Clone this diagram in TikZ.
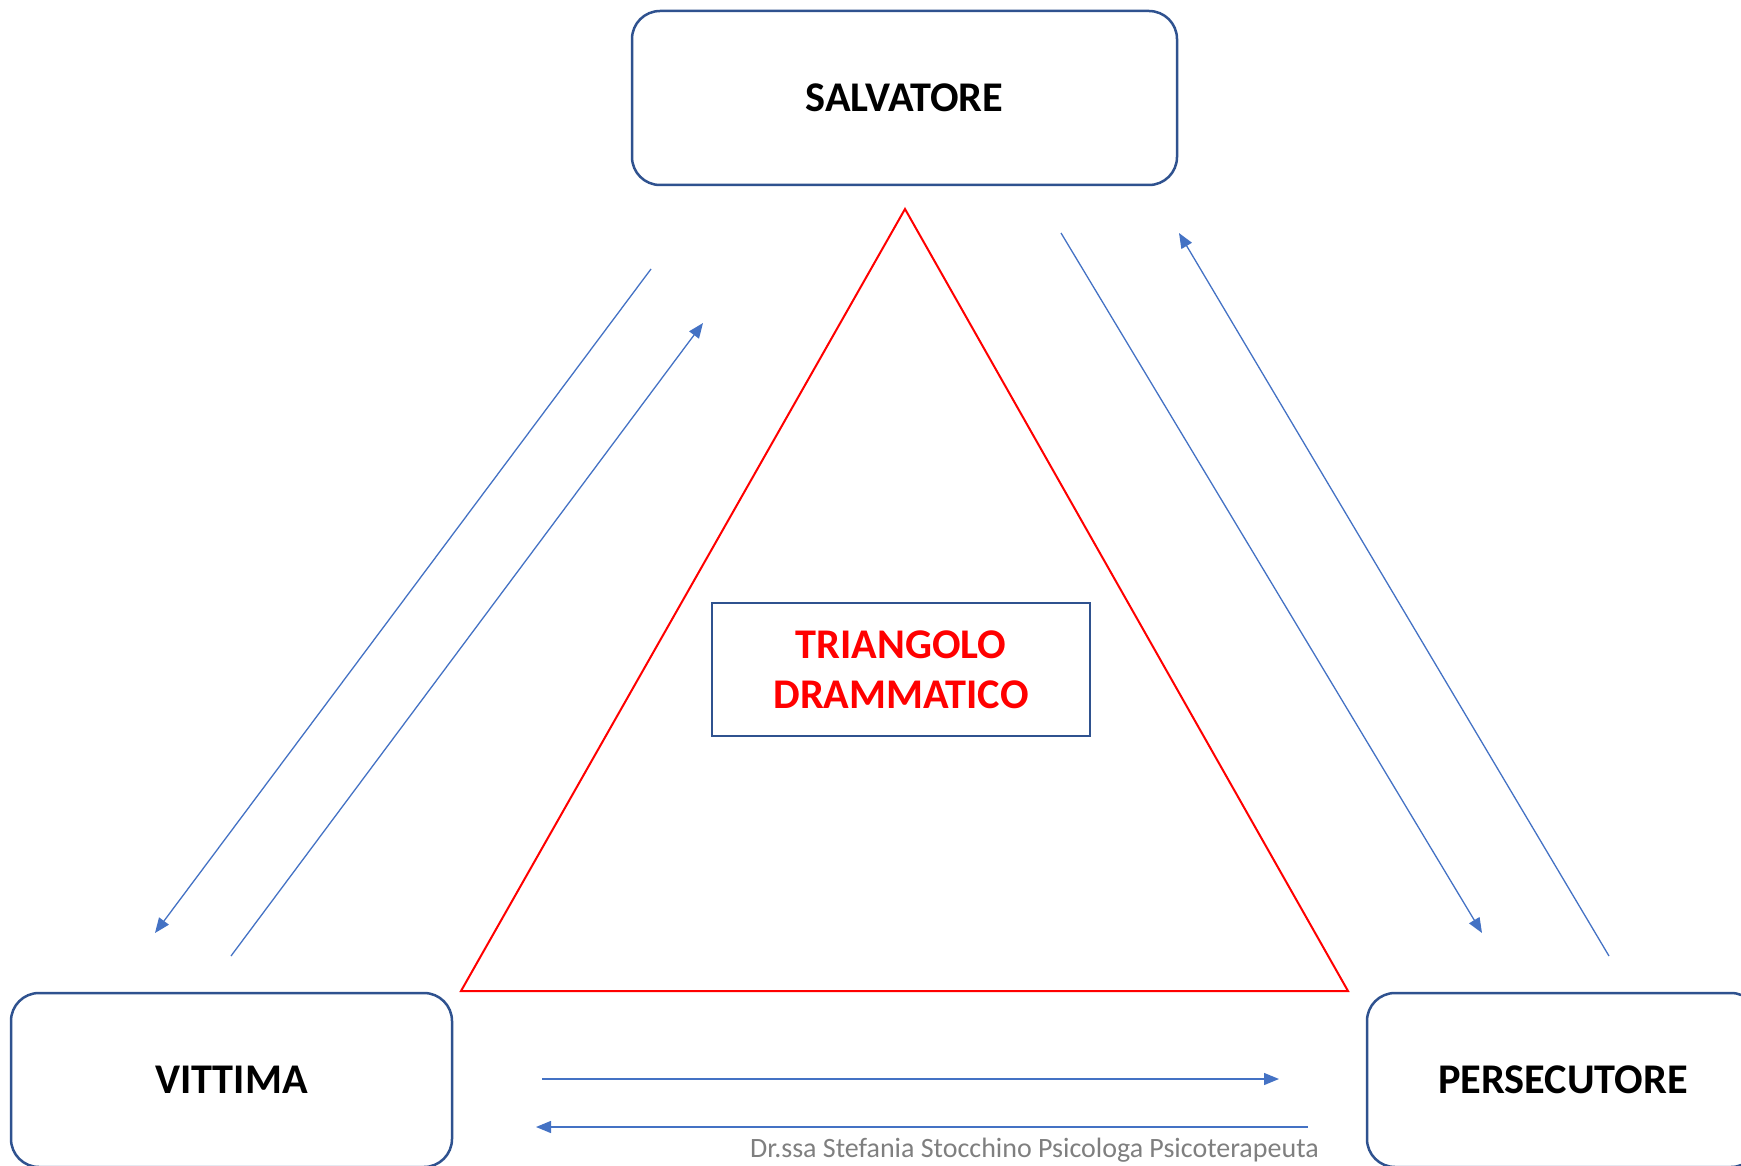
\documentclass[tikz,border=0pt]{standalone}
\usepackage{fontspec}
\setmainfont{Carlito}
\usepackage{tikz}
\usetikzlibrary{arrows.meta,positioning}
\definecolor{boxblue}{HTML}{2F528F}
\definecolor{arrblue}{HTML}{4472C4}
\definecolor{footgray}{HTML}{7F7F7F}

\begin{document}
\begin{tikzpicture}[x=1pt,y=-1pt,on grid,
    role/.style={draw=boxblue,line width=2.5pt,rounded corners=28pt,
      minimum height=174pt,font=\fontsize{42.3}{50}\selectfont\bfseries},
    flow/.style={arrblue,line width=1.3pt,-{Triangle[length=15pt,width=12pt]}}]
    \useasboundingbox (0,0) rectangle (1741,1166);
    \node[role,minimum width=545pt] (salv) at (904.5,98) {SALVATORE};
    \node[role,minimum width=441pt] (vitt) [below left=982pt and 673pt of salv]   {VITTIMA};
    \node[role,minimum width=392pt] (pers) [below right=982pt and 658.5pt of salv] {PERSECUTORE};
    % red triangle
    \coordinate (t_top)   at (905,209);
    \coordinate (t_left)  at (461,991);
    \coordinate (t_right) at (1348,991);
    \draw[red,line width=2pt] (t_top) -- (t_left) -- (t_right) -- cycle;
    \node[draw=boxblue,line width=2.5pt,minimum width=378pt,minimum height=133pt,
      text=red,align=center,font=\fontsize{42.3}{50}\selectfont\bfseries]
      (drama) at (901,669.5) {TRIANGOLO\\DRAMMATICO};
    % arrow ends
    \coordinate (l_a) at (651,269);  \coordinate (l_b) at (155,933);
    \coordinate (l_c) at (231,956);  \coordinate (l_d) at (703,323);
    \coordinate (r_a) at (1061,233); \coordinate (r_b) at (1482,933);
    \coordinate (r_c) at (1609,956); \coordinate (r_d) at (1179,233);
    \coordinate (b_a) at (542,1079); \coordinate (b_b) at (1279,1079);
    \coordinate (b_c) at (1308,1127); \coordinate (b_d) at (536,1127);
    \path[flow]
    % left side
    (l_a) edge (l_b)
    (l_c) edge (l_d)
    % right side
    (r_a) edge (r_b)
    (r_c) edge (r_d)
    % bottom
    (b_a) edge (b_b)
    (b_c) edge (b_d);
    \node[anchor=base east,text=footgray,font=\fontsize{28}{32}\selectfont,inner sep=0pt]
      (credit) at (1319,1157) {Dr.ssa Stefania Stocchino Psicologa Psicoterapeuta};
\end{tikzpicture}
\end{document}
